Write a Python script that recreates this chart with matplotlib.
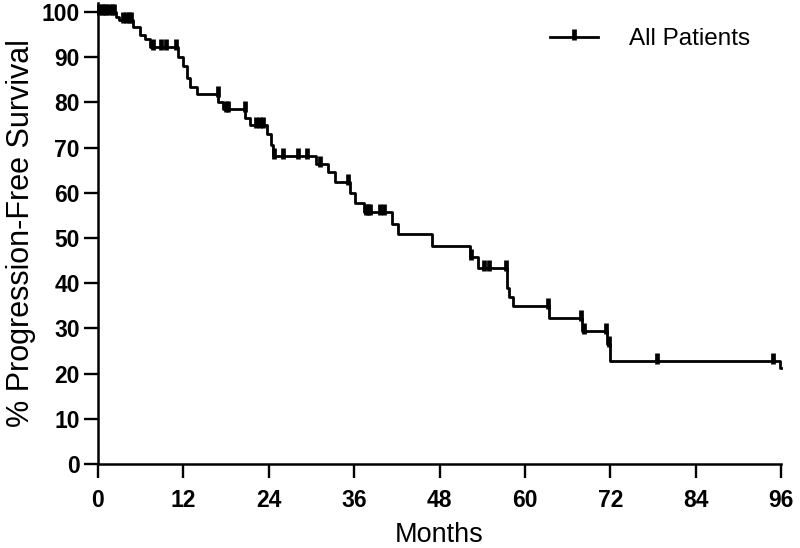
import numpy as np
import matplotlib
matplotlib.use("Agg")
import matplotlib.pyplot as plt
from matplotlib.path import Path

# Kaplan-Meier step data (months, % PFS after event)
event_times = [2.5, 3.0, 4.9, 5.9, 6.6, 7.3, 11.2, 11.9, 12.5, 12.9, 13.9, 16.9, 17.6,
               20.7, 21.4, 23.8, 24.3, 24.6, 30.6, 32.3, 33.3, 35.4, 36.1, 37.4, 41.3,
               42.2, 46.9, 52.3, 53.4, 57.5, 57.8, 58.4, 63.4, 68.0, 71.5, 71.9, 95.8]
event_surv = [99.0, 98.3, 96.8, 95.0, 94.0, 92.3, 90.0, 88.0, 85.5, 83.5, 81.8, 80.0, 78.5,
              76.5, 75.0, 73.0, 70.5, 68.2, 66.3, 64.5, 62.3, 60.0, 57.8, 55.8, 53.2,
              50.8, 48.3, 45.8, 43.3, 39.0, 37.0, 35.0, 32.3, 29.4, 26.5, 22.8, 21.3]
end_time = 96.0
censor_times = [0.2, 0.5, 0.8, 1.1, 1.5, 2.0, 2.3, 3.5, 3.9, 4.3, 4.6, 7.8, 8.8, 9.6, 10.9,
                16.8, 18.0, 18.3, 20.6, 22.2, 22.8, 23.2, 24.7, 26.0, 28.1, 29.4, 31.2,
                35.1, 37.6, 38.0, 38.3, 39.7, 40.2, 52.4, 54.2, 54.9, 57.4, 63.3, 67.9,
                68.3, 71.4, 71.8, 78.6, 94.9]

x_ticks = [0, 12, 24, 36, 48, 60, 72, 84, 96]
y_ticks = [0, 10, 20, 30, 40, 50, 60, 70, 80, 90, 100]
series_label = "All Patients"

plt.rcParams['font.family'] = ['Liberation Sans', 'DejaVu Sans']

fig = plt.figure(figsize=(8.0, 5.48), dpi=100)
ax = fig.add_axes([0.1225, 0.1533, 0.97625 - 0.1225, 0.9945 - 0.1533])

LW = 2.0
# step curve
xs = np.concatenate([[0.0], event_times, [end_time]])
ys = np.concatenate([[100.0], event_surv, [event_surv[-1]]])
ax.step(xs, ys, where='post', color='black', lw=LW, clip_on=False, zorder=3)

# censor marks
idx = np.searchsorted(np.array(event_times), np.array(censor_times), side='right')
levels = np.concatenate([[100.0], event_surv])
cy = levels[idx]
tick_marker = Path([(0, -0.3), (0, 1.0)], [Path.MOVETO, Path.LINETO])
ax.plot(censor_times, cy, linestyle='none', marker=tick_marker, markersize=12,
        markeredgewidth=3.4, color='black', clip_on=False, zorder=4)

# legend handle
ax.plot([], [], color='black', lw=LW, marker=tick_marker, markersize=12,
        markeredgewidth=3.4, label=series_label)
leg = ax.legend(loc='upper right', frameon=False, fontsize=17.5, handlelength=1.95,
                handletextpad=1.3, numpoints=1, bbox_to_anchor=(0.987, 0.993))

ax.set_xlim(0, 96)
ax.set_ylim(0, 102)
ax.set_xticks(x_ticks)
ax.set_yticks(y_ticks)
for lab in ax.get_xticklabels() + ax.get_yticklabels():
    lab.set_fontweight('bold')
    lab.set_fontsize(16.5)
ax.tick_params(axis='both', direction='out', length=10, width=1.7, color='black', pad=3)
ax.tick_params(axis='x', pad=8)
for s in ['top', 'right']:
    ax.spines[s].set_visible(False)
for s in ['left', 'bottom']:
    ax.spines[s].set_linewidth(1.8)

ax.set_xlabel('Months', fontsize=19.5, labelpad=7)
ax.set_ylabel('% Progression-Free Survival', fontsize=22, labelpad=4)

fig.savefig('out.png', dpi=100)
